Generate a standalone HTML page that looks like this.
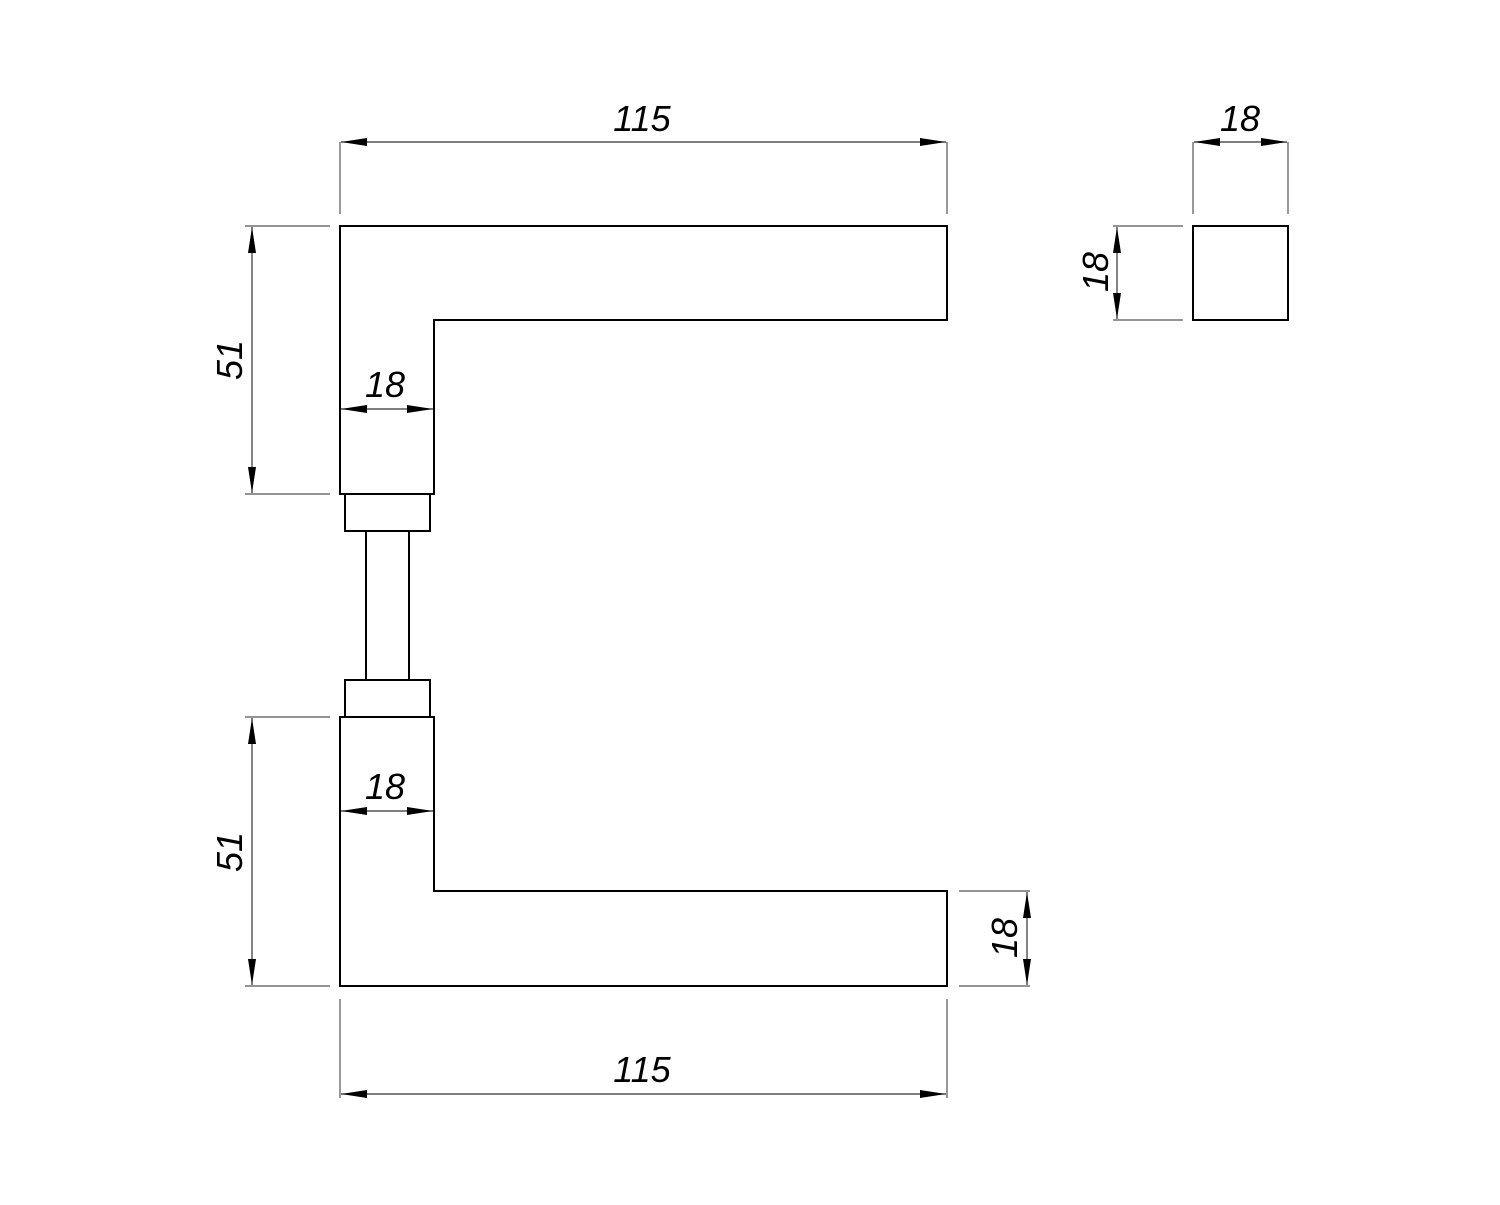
<!DOCTYPE html>
<html><head><meta charset="utf-8"><style>html,body{margin:0;padding:0;background:#fff}</style></head><body>
<svg width="1500" height="1200" viewBox="0 0 1500 1200" xmlns="http://www.w3.org/2000/svg">
<defs>
<marker id="a" markerWidth="26" markerHeight="10" refX="26" refY="5" orient="auto-start-reverse" markerUnits="userSpaceOnUse"><path d="M0,1 L26,5 L0,9 Z" fill="#000"/></marker>
</defs>
<g fill="none" stroke="#000" stroke-width="2">
<path d="M340,226 H947 V320 H434 V494 H340 Z"/>
<rect x="345" y="494" width="85" height="37"/>
<rect x="366" y="531" width="43" height="149"/>
<rect x="345" y="680" width="85" height="37"/>
<path d="M340,717 H434 V891 H947 V986 H340 Z"/>
<rect x="1193" y="226" width="95" height="94"/>
</g>
<g stroke="#555" stroke-width="1.2" fill="none">
<path d="M340,142 V214 M947,142 V214 M1193,142 V214 M1288,142 V214"/>
<path d="M245,226 H330 M245,494 H330 M245,717 H330 M245,986 H330"/>
<path d="M1113,226 H1183 M1113,320 H1183"/>
<path d="M959,891 H1030 M959,986 H1030"/>
<path d="M340,999 V1098 M947,999 V1098"/>
</g>
<g stroke="#333" stroke-width="1.2" marker-start="url(#a)" marker-end="url(#a)">
<line x1="341" y1="142" x2="946" y2="142"/>
<line x1="1194" y1="142" x2="1287" y2="142"/>
<line x1="252" y1="227" x2="252" y2="493"/>
<line x1="341" y1="409" x2="433" y2="409"/>
<line x1="1117" y1="227" x2="1117" y2="319"/>
<line x1="252" y1="718" x2="252" y2="985"/>
<line x1="341" y1="811" x2="433" y2="811"/>
<line x1="1027" y1="892" x2="1027" y2="985"/>
<line x1="341" y1="1094" x2="946" y2="1094"/>
</g>
<g font-family="Liberation Sans, sans-serif" font-style="italic" font-size="36" fill="#000" text-anchor="middle">
<text x="642" y="131">115</text>
<text x="1240" y="131">18</text>
<text x="385" y="397">18</text>
<text x="385" y="799">18</text>
<text x="642" y="1082">115</text>
<text transform="translate(242,360) rotate(-90)">51</text>
<text transform="translate(242,852) rotate(-90)">51</text>
<text transform="translate(1108,272) rotate(-90)">18</text>
<text transform="translate(1017,938) rotate(-90)">18</text>
</g>
</svg>
</body></html>
